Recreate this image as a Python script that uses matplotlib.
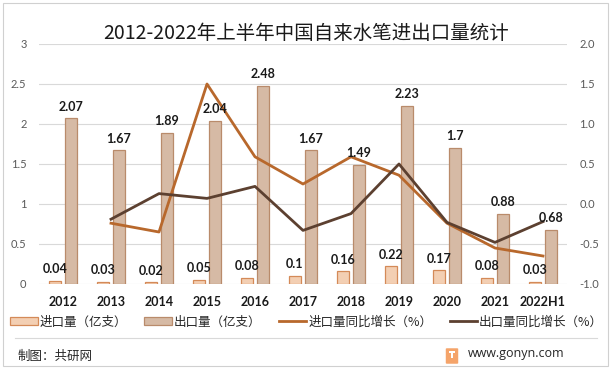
import matplotlib
matplotlib.use("Agg")
import matplotlib.pyplot as plt
import numpy as np
from matplotlib.patches import Rectangle, FancyBboxPatch
from matplotlib.lines import Line2D

plt.rcParams['font.family'] = ['Noto Sans CJK SC', 'DejaVu Sans']

years = ["2012", "2013", "2014", "2015", "2016", "2017", "2018", "2019", "2020", "2021", "2022H1"]
import_vol = [0.04, 0.03, 0.02, 0.05, 0.08, 0.1, 0.16, 0.22, 0.17, 0.08, 0.03]
export_vol = [2.07, 1.67, 1.89, 2.04, 2.48, 1.67, 1.49, 2.23, 1.7, 0.88, 0.68]
import_growth = [np.nan, -0.24, -0.35, 1.5, 0.59, 0.25, 0.59, 0.36, -0.24, -0.55, -0.65]
export_growth = [np.nan, -0.19, 0.13, 0.07, 0.22, -0.33, -0.12, 0.5, -0.23, -0.48, -0.22]

left_ticks = [0, 0.5, 1, 1.5, 2, 2.5, 3]
left_labels = ["0", "0.5", "1", "1.5", "2", "2.5", "3"]
right_ticks = [-1.0, -0.5, 0.0, 0.5, 1.0, 1.5, 2.0]
right_labels = ["-1.0", "-0.5", "0.0", "0.5", "1.0", "1.5", "2.0"]

c_imp_fill = "#F3CFB3"
c_imp_edge = "#D48A58"
c_exp_fill = "#D6BAA5"
c_exp_edge = "#B98B6B"
c_imp_line = "#B8682C"
c_exp_line = "#5C4030"
tick_col = "#595959"
grid_col = "#D9D9D9"

fig = plt.figure(figsize=(6.12, 3.69), dpi=100)
fig.patch.set_facecolor("white")
ax = fig.add_axes([39/612, 1-284/369, (567-39)/612, (284-44)/369])
ax2 = ax.twinx()

x = np.arange(len(years))
bw = 0.27
off = 0.167
b1 = ax.bar(x - off, import_vol, bw, color=c_imp_fill, edgecolor=c_imp_edge, linewidth=0.9, zorder=2,
            label="进口量（亿支）")
b2 = ax.bar(x + off, export_vol, bw, color=c_exp_fill, edgecolor=c_exp_edge, linewidth=0.9, zorder=2,
            label="出口量（亿支）")

l1, = ax2.plot(x, import_growth, color=c_imp_line, linewidth=2.0, zorder=3, label="进口量同比增长（%）")
l2, = ax2.plot(x, export_growth, color=c_exp_line, linewidth=2.0, zorder=3, label="出口量同比增长（%）")

for xi, v in zip(x, import_vol):
    ax2.annotate(f"{v:g}", (xi - off, v), xycoords=ax.transData, xytext=(0, 4), textcoords="offset points",
                 ha="center", va="bottom", fontsize=9, fontweight="bold", color="#1a1a1a",
                 family=["Lato", "DejaVu Sans"], zorder=5)
for xi, v in zip(x, export_vol):
    ax2.annotate(f"{v:g}", (xi + off, v), xycoords=ax.transData, xytext=(0, 4), textcoords="offset points",
                 ha="center", va="bottom", fontsize=9, fontweight="bold", color="#1a1a1a",
                 family=["Lato", "DejaVu Sans"], zorder=5)

ax.set_xlim(-0.5, len(years) - 0.5)
ax.set_ylim(0, 3)
ax2.set_ylim(-1.0, 2.0)
ax.set_yticks(left_ticks)
ax.set_yticklabels(left_labels)
ax2.set_yticks(right_ticks)
ax2.set_yticklabels(right_labels)
ax.set_xticks(x)
ax.set_xticklabels(years)

for a in (ax, ax2):
    for s in a.spines.values():
        s.set_visible(False)
    a.tick_params(length=0)
ax.yaxis.grid(True, color=grid_col, linewidth=0.8, zorder=0)
ax.set_axisbelow(True)
ax.tick_params(axis="y", colors=tick_col, labelsize=8, pad=9)
ax2.tick_params(axis="y", colors=tick_col, labelsize=8, pad=9)
for lab in ax.get_yticklabels() + ax2.get_yticklabels():
    lab.set_family(["Lato", "DejaVu Sans"])
ax.tick_params(axis="x", labelsize=9, pad=9, colors="#1a1a1a")
for lab in ax.get_xticklabels():
    lab.set_fontweight("bold")
    lab.set_family(["Lato", "DejaVu Sans"])

ax.set_zorder(ax2.get_zorder() - 1)
ax.patch.set_visible(False)
ax2.patch.set_visible(False)

fig.text(0.5, 1 - 33/369, "2012-2022年上半年中国自来水笔进出口量统计", ha="center", va="center",
         fontsize=14, color="#1a1a1a")

leg = fig.legend(handles=[b1, b2, l1, l2], loc="center", bbox_to_anchor=(0.501, 1 - 322/369),
                 ncol=4, frameon=False, fontsize=9, handlelength=2.2, handleheight=0.65,
                 handletextpad=0.15, columnspacing=1.4, borderaxespad=0, labelcolor="#262626")

fig.add_artist(Line2D([15/612, 597/612], [1 - 338/369, 1 - 338/369], color="#D9D9D9", linewidth=0.8))
fig.add_artist(Rectangle((3/612, 3/369), 605/612, 363/369, fill=False, edgecolor="#D0D0D0", linewidth=0.8))

fig.text(18/612, 1 - 356/369, "制图：共研网", ha="left", va="center", fontsize=9, color="#262626")
fig.text(468/612, 1 - 354/369, "www.gonyn.com", ha="left", va="center", fontsize=9, color="#262626",
         family=["Open Sans", "DejaVu Sans"])
fig.add_artist(FancyBboxPatch((447/612, 1 - 363/369), 10/612, 14/369,
                              boxstyle="round,pad=0.002", facecolor="#F5A46A", edgecolor="none"))
fig.add_artist(Rectangle((449/612, 1 - 353/369), 6/612, 2/369, facecolor="white", edgecolor="none"))
fig.add_artist(Rectangle((451/612, 1 - 358/369), 2/612, 5/369, facecolor="white", edgecolor="none"))

fig.savefig("out.png", dpi=100)
